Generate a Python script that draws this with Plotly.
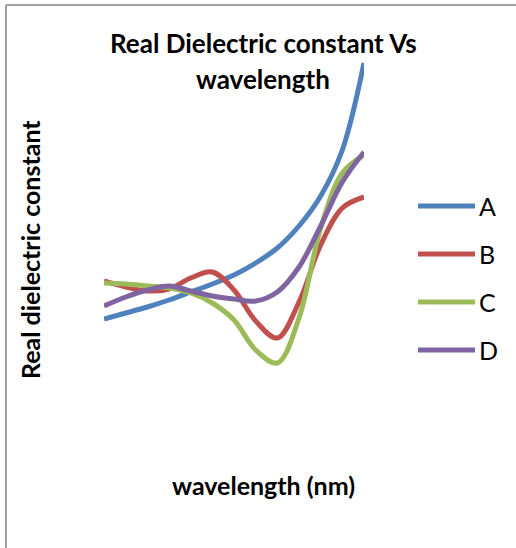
import plotly.graph_objects as go

# Wavelength categories (evenly spaced samples, nm)
wavelength = [300, 325, 350, 375, 400, 425, 450, 475, 500, 525, 550, 575, 600]

# Real dielectric constant for each sample
series_a = [6.05, 6.35, 6.65, 7.00, 7.40, 7.80, 8.25, 8.85, 9.60, 10.70, 12.20, 14.50, 18.85]
series_b = [7.95, 7.65, 7.45, 7.55, 8.10, 8.40, 7.50, 5.95, 5.10, 6.90, 9.75, 11.60, 12.15]
series_c = [7.85, 7.80, 7.70, 7.60, 7.35, 6.85, 6.00, 4.50, 3.85, 6.10, 10.60, 13.35, 14.25]
series_d = [6.70, 7.15, 7.50, 7.70, 7.45, 7.20, 7.05, 6.95, 7.40, 8.65, 10.70, 12.90, 14.40]

names = ["A", "B", "C", "D"]
colors = ["#4F81BD", "#C0504D", "#9BBB59", "#8064A2"]

W, H = 516, 548
ML, MR, MT, MB = 104, 152, 40, 108
PW, PH = W - ML - MR, H - MT - MB

FONT = "Lato"


def fx(px):
    """Pixel x -> paper x."""
    return (px - ML) / PW


def fy(py):
    """Pixel y (from top) -> paper y."""
    return (H - MB - py) / PH


fig = go.Figure()
for name, vals, col in zip(names, [series_a, series_b, series_c, series_d], colors):
    fig.add_trace(go.Scatter(
        x=wavelength, y=vals, name=name, mode="lines",
        line=dict(color=col, width=5, shape="spline", smoothing=1.0),
        showlegend=False,
    ))

shapes = []
annotations = []

# chart border (top and left edges)
shapes.append(dict(type="line", xref="paper", yref="paper",
                   x0=fx(6), x1=fx(W + 2), y0=fy(5), y1=fy(5),
                   line=dict(color="#a0a0a0", width=2)))
shapes.append(dict(type="line", xref="paper", yref="paper",
                   x0=fx(6), x1=fx(6), y0=fy(5), y1=fy(H + 2),
                   line=dict(color="#a0a0a0", width=2)))

# legend entries
legend_y = [206, 254, 302, 350]
for name, col, ly in zip(names, colors, legend_y):
    shapes.append(dict(type="line", xref="paper", yref="paper",
                       x0=fx(418), x1=fx(475), y0=fy(ly), y1=fy(ly),
                       line=dict(color=col, width=5)))
    annotations.append(dict(text=name, xref="paper", yref="paper",
                            x=fx(477), y=fy(ly), xanchor="left", yanchor="middle",
                            showarrow=False, font=dict(family=FONT, size=25, color="#000")))

# title (two lines)
annotations.append(dict(text="<b>Real Dielectric constant Vs</b>", xref="paper", yref="paper",
                        x=fx(263), y=fy(43), xanchor="center", yanchor="middle",
                        showarrow=False, font=dict(family=FONT, size=26, color="#000")))
annotations.append(dict(text="<b>wavelength</b>", xref="paper", yref="paper",
                        x=fx(263), y=fy(79), xanchor="center", yanchor="middle",
                        showarrow=False, font=dict(family=FONT, size=26, color="#000")))

# axis titles
annotations.append(dict(text="<b>Real dielectric constant</b>", xref="paper", yref="paper",
                        x=fx(30), y=fy(250), xanchor="center", yanchor="middle", textangle=-90,
                        showarrow=False, font=dict(family=FONT, size=25, color="#000")))
annotations.append(dict(text="<b>wavelength (nm)</b>", xref="paper", yref="paper",
                        x=fx(263), y=fy(485), xanchor="center", yanchor="middle",
                        showarrow=False, font=dict(family=FONT, size=25, color="#000")))

hidden = dict(showgrid=False, zeroline=False, showline=False, showticklabels=False, ticks="")
fig.update_layout(
    width=W, height=H,
    margin=dict(l=ML, r=MR, t=MT, b=MB),
    paper_bgcolor="white", plot_bgcolor="white",
    xaxis=dict(range=[300, 600], **hidden),
    yaxis=dict(range=[0, 20], **hidden),
    shapes=shapes, annotations=annotations,
    showlegend=False,
)

fig.write_html("out.html")
